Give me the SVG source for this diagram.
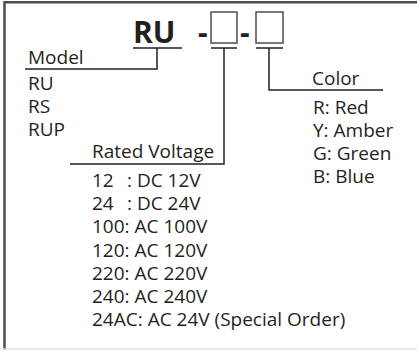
<svg xmlns="http://www.w3.org/2000/svg" width="417" height="350" viewBox="0 0 417 350">
<style>
text{font-family:"Open Sans","Noto Sans","Liberation Sans",sans-serif;font-size:19px;fill:#231f20}
.b{font-weight:bold;font-size:30px}
.ln{fill:none;stroke:#231f20;stroke-width:1.5}
.box{fill:#fff;stroke:#4d4d4d;stroke-width:1.5}
</style>
<rect width="417" height="350" fill="#fff"/>
<path d="M4.5,350 V2.2 H417" fill="none" stroke="#4d4d4d" stroke-width="2.5"/>
<line x1="0" y1="349" x2="417" y2="349" stroke="#e3e3e3" stroke-width="1.5"/>
<g id="code">
<text class="b" x="133" y="43">RU</text>
<text class="b" x="198" y="43">-</text>
<rect class="box" x="211" y="12" width="26" height="31"/>
<text class="b" x="240" y="43">-</text>
<rect class="box" x="256" y="12" width="27" height="31"/>
</g>
<g id="connectors">
<path class="ln" d="M133,48 H182 M157,48 V69 H25"/>
<path class="ln" d="M211,48 H237 M224,48 V164 H70"/>
<path class="ln" d="M256,48 H283 M269,48 V90 H383"/>
</g>
<g id="model">
<text x="28" y="64">Model</text>
<text x="28" y="90">RU</text>
<text x="28" y="113">RS</text>
<text x="28" y="136">RUP</text>
</g>
<g id="voltage">
<text x="92" y="158">Rated Voltage</text>
<text x="92" y="187">12<tspan x="127">: DC 12V</tspan></text>
<text x="92" y="210">24<tspan x="127">: DC 24V</tspan></text>
<text x="92" y="233">100: AC 100V</text>
<text x="92" y="257">120: AC 120V</text>
<text x="92" y="280">220: AC 220V</text>
<text x="92" y="303">240: AC 240V</text>
<text x="92" y="326">24AC: AC 24V (Special Order)</text>
</g>
<g id="color">
<text x="312" y="85">Color</text>
<text x="313" y="114">R: Red</text>
<text x="313" y="137">Y: Amber</text>
<text x="313" y="160">G: Green</text>
<text x="313" y="183">B: Blue</text>
</g>
</svg>
